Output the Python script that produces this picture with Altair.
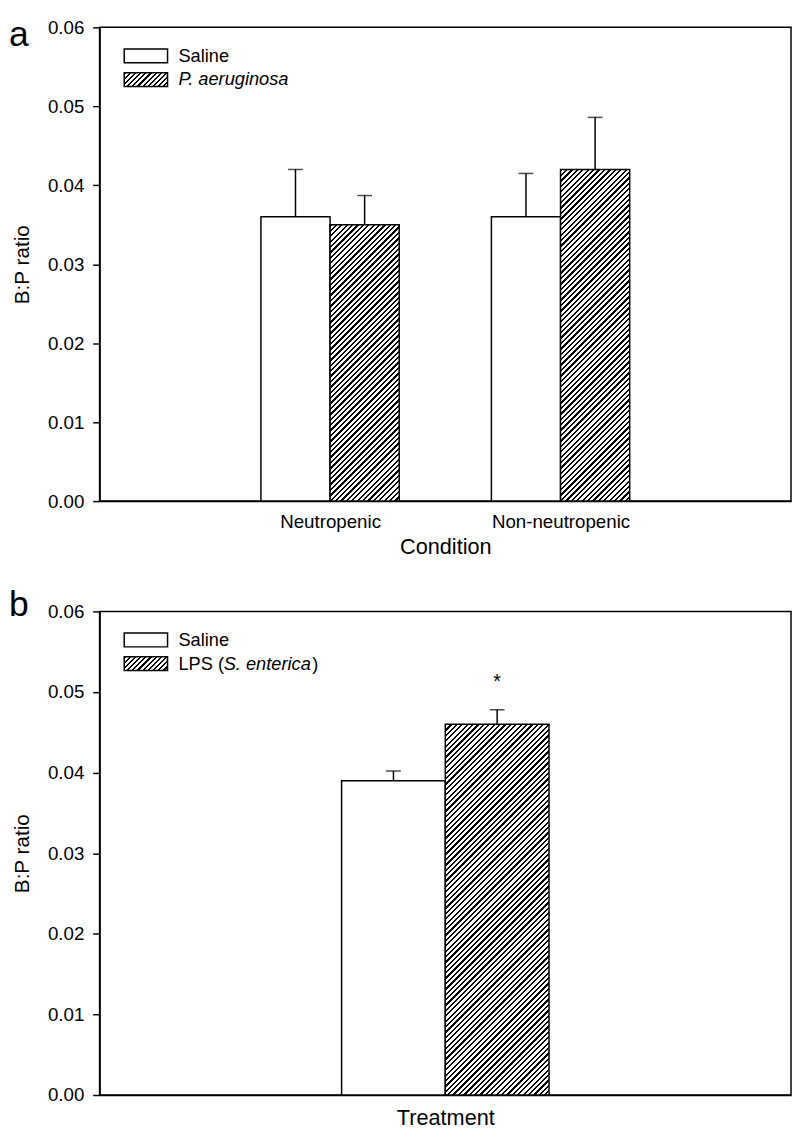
import json
import altair as alt
import pandas as pd

# ---------------- data ----------------
conditions = ["Neutropenic", "Non-neutropenic"]
saline_a = [0.036, 0.036]
saline_a_err = [0.0060, 0.0055]
pa_a = [0.035, 0.042]
pa_a_err = [0.0037, 0.0066]

treatments = ["Treatment"]
saline_b = [0.039]
saline_b_err = [0.0012]
lps_b = [0.046]
lps_b_err = [0.0018]
sig_b = ["*"]
sig_b_y = [0.0512]

legend_a = ["Saline", "P. aeruginosa"]
legend_b = ["Saline", "LPS (", "S. enterica", ")"]
y_ticks = [0.0, 0.01, 0.02, 0.03, 0.04, 0.05, 0.06]
panel_letters = ["a", "b"]

# ---------------- style ----------------
FONT = "Liberation Sans"
BAR = 0.3
W = 702
H_A = 481
H_B = 491
YMAX = 0.06


def hatch(w, h, spacing=5.5, frac=0.42):
    L = w + h
    n = max(1, round(L / spacing))
    k = L / (w * w + h * h)
    stops = []
    for i in range(n):
        a = i / n
        b = (i + frac) / n
        c = (i + 1) / n
        stops += [
            alt.GradientStop(offset=a, color="black"),
            alt.GradientStop(offset=b, color="black"),
            alt.GradientStop(offset=b, color="white"),
            alt.GradientStop(offset=c, color="white"),
        ]
    return alt.LinearGradient(gradient="linear", stops=stops,
                              x1=0, y1=0, x2=w * k, y2=h * k)


def make_df(cats, s, se, t, te):
    rows = []
    for i, c in enumerate(cats):
        rows.append(dict(cat=c, pos=i + 1, grp="saline", val=s[i], err=se[i], side=-1))
        rows.append(dict(cat=c, pos=i + 1, grp="treat", val=t[i], err=te[i], side=1))
    return pd.DataFrame(rows)


def panel(df, cats, xmax, height, title, show_labels, legend_items, letter, letter_y):
    base = alt.Chart(df).transform_calculate(
        x0=f"datum.pos + (datum.side < 0 ? -{BAR} : 0)",
        x1=f"datum.pos + (datum.side < 0 ? 0 : {BAR})",
        xc=f"datum.pos + datum.side * {BAR / 2}",
        top="datum.val + datum.err",
    )
    xaxis = alt.Axis(
        values=list(range(1, len(cats) + 1)),
        labelExpr=f"{json.dumps(cats)}[datum.value - 1]",
        labels=show_labels, ticks=False, grid=False, title=title,
        labelFontSize=19, titleFontSize=22, labelPadding=12,
        titlePadding=5 if show_labels else 13,
    )
    xs = alt.Scale(domain=[0, xmax], nice=False, zero=False)
    ys = alt.Scale(domain=[0, YMAX], nice=False)
    yaxis = alt.Axis(values=y_ticks, format=".2f", grid=False, title="B:P ratio",
                     tickSize=7, labelPadding=9, labelFontSize=19,
                     titleFontSize=21, titlePadding=15)
    X = alt.X("x0:Q", scale=xs, axis=xaxis)
    Y = alt.Y("val:Q", scale=ys, axis=yaxis)

    sal = base.mark_rect(fill="white", stroke="black", strokeWidth=1.5).encode(
        x=X, x2="x1:Q", y=Y, y2=alt.datum(0)
    ).transform_filter("datum.grp == 'saline'")

    layers = [sal]
    bw = BAR * W / xmax
    for i, v in enumerate(df[df.grp == "treat"]["val"].tolist()):
        bh = v / YMAX * height
        c = cats[i]
        layers.append(
            base.mark_rect(fill=hatch(bw, bh), stroke="black", strokeWidth=1.5).encode(
                x=X, x2="x1:Q", y=Y, y2=alt.datum(0)
            ).transform_filter(f"datum.grp == 'treat' && datum.cat == {json.dumps(c)}")
        )

    err = base.mark_rule(color="black", strokeWidth=1.5).encode(
        x="xc:Q", y="val:Q", y2="top:Q")
    cap = base.mark_tick(orient="horizontal", size=15, thickness=1.5, color="black").encode(
        x="xc:Q", y="top:Q")
    layers += [err, cap]

    one = alt.Chart(pd.DataFrame({"k": [0]}))
    # legend
    for j, item in enumerate(legend_items):
        y0 = 22 + j * 24
        if j == 0:
            layers.append(one.mark_rect(fill="white", stroke="black", strokeWidth=1.5).encode(
                x=alt.value(25), x2=alt.value(69), y=alt.value(y0), y2=alt.value(y0 + 14)))
        else:
            layers.append(one.mark_rect(fill=hatch(44, 14), stroke="black", strokeWidth=1.5).encode(
                x=alt.value(25), x2=alt.value(69), y=alt.value(y0), y2=alt.value(y0 + 14)))
        for txt, dx, italic in item:
            layers.append(one.mark_text(align="left", baseline="middle", fontSize=18.5,
                                        font=FONT, fontStyle="italic" if italic else "normal",
                                        color="black").encode(
                x=alt.value(80 + dx), y=alt.value(y0 + 7), text=alt.value(txt)))

    layers.append(one.mark_text(align="left", baseline="top", fontSize=36, font=FONT,
                                color="black").encode(
        x=alt.value(-92), y=alt.value(letter_y), text=alt.value(letter)))
    return alt.layer(*layers).properties(width=W, height=height)


df_a = make_df(conditions, saline_a, saline_a_err, pa_a, pa_a_err)
df_b = make_df(treatments, saline_b, saline_b_err, lps_b, lps_b_err)

leg_a = [[(legend_a[0], 0, False)], [(legend_a[1], 0, True)]]
leg_b = [[(legend_b[0], 0, False)],
         [(legend_b[1], 0, False), (legend_b[2], 46, True), (legend_b[3], 136, False)]]

pa = panel(df_a, conditions, 3, H_A, "Condition", True, leg_a, panel_letters[0], -9)

pb = panel(df_b, treatments, 2, H_B, "Treatment", False, leg_b, panel_letters[1], -23)
star = alt.Chart(pd.DataFrame({"pos": [1], "y": sig_b_y, "t": sig_b})).transform_calculate(
    xc=f"datum.pos + {BAR / 2}"
).mark_text(fontSize=20, font=FONT, color="black", baseline="middle").encode(
    x=alt.X("xc:Q", scale=alt.Scale(domain=[0, 2], nice=False, zero=False)),
    y=alt.Y("y:Q", scale=alt.Scale(domain=[0, YMAX], nice=False)),
    text="t:N",
)
pb = alt.layer(pb, star)

chart = alt.vconcat(pa, pb, spacing=112, bounds="flush").properties(padding=0).configure_view(
    stroke="black", strokeWidth=1.5
).configure_axis(
    domainColor="black", domainWidth=1.5, tickColor="black", tickWidth=1.5,
    labelColor="black", titleColor="black", labelFont=FONT, titleFont=FONT,
    titleFontWeight="normal",
)

chart.save("out.html", embed_options={"renderer": "svg", "actions": False})
